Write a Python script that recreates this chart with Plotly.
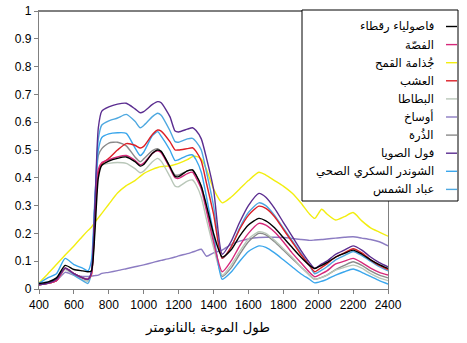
import plotly.graph_objects as go

# Wavelength grid (nm)
wavelength = [400, 450, 500, 550, 600, 650, 680, 700, 720, 740,
              760, 800, 850, 900, 950, 980, 1000, 1050, 1080, 1100,
              1150, 1180, 1200, 1250, 1280, 1300, 1330, 1360, 1400, 1450,
              1500, 1550, 1600, 1660, 1700, 1750, 1800, 1850, 1900, 1950,
              1980, 2020, 2050, 2100, 2150, 2200, 2250, 2300, 2350, 2400]

pinto_beans = [0.020, 0.025, 0.040, 0.085, 0.070, 0.065, 0.062, 0.065, 0.200, 0.400,
               0.445, 0.460, 0.470, 0.475, 0.458, 0.442, 0.448, 0.488, 0.500, 0.495,
               0.440, 0.405, 0.404, 0.425, 0.428, 0.410, 0.370, 0.300, 0.200, 0.115,
               0.140, 0.190, 0.230, 0.254, 0.245, 0.220, 0.185, 0.150, 0.115, 0.085,
               0.074, 0.085, 0.095, 0.115, 0.128, 0.140, 0.125, 0.105, 0.088, 0.074]

alfalfa = [0.015, 0.020, 0.030, 0.075, 0.055, 0.040, 0.035, 0.055, 0.260, 0.430,
           0.455, 0.465, 0.475, 0.480, 0.463, 0.447, 0.453, 0.488, 0.497, 0.490,
           0.435, 0.400, 0.398, 0.415, 0.420, 0.400, 0.360, 0.280, 0.170, 0.062,
           0.100, 0.155, 0.200, 0.236, 0.230, 0.205, 0.170, 0.130, 0.095, 0.060,
           0.044, 0.055, 0.065, 0.090, 0.100, 0.110, 0.095, 0.075, 0.060, 0.050]

wheat_bran = [0.022, 0.054, 0.088, 0.122, 0.155, 0.190, 0.210, 0.222, 0.240, 0.256,
              0.272, 0.305, 0.345, 0.372, 0.390, 0.405, 0.415, 0.430, 0.437, 0.440,
              0.443, 0.448, 0.452, 0.465, 0.476, 0.477, 0.468, 0.430, 0.360, 0.310,
              0.330, 0.360, 0.390, 0.420, 0.410, 0.390, 0.370, 0.345, 0.310, 0.270,
              0.254, 0.287, 0.270, 0.248, 0.260, 0.275, 0.245, 0.220, 0.205, 0.190]

grass = [0.015, 0.020, 0.030, 0.075, 0.055, 0.040, 0.035, 0.050, 0.250, 0.420,
         0.450, 0.470, 0.500, 0.523, 0.517, 0.507, 0.513, 0.556, 0.572, 0.568,
         0.530, 0.500, 0.500, 0.505, 0.508, 0.495, 0.460, 0.380, 0.270, 0.110,
         0.150, 0.215, 0.265, 0.298, 0.290, 0.260, 0.215, 0.170, 0.125, 0.085,
         0.062, 0.078, 0.090, 0.115, 0.130, 0.145, 0.130, 0.105, 0.085, 0.070]

potato = [0.015, 0.020, 0.030, 0.070, 0.050, 0.035, 0.028, 0.050, 0.260, 0.420,
          0.445, 0.452, 0.455, 0.452, 0.433, 0.418, 0.424, 0.458, 0.470, 0.460,
          0.405, 0.370, 0.368, 0.388, 0.392, 0.375, 0.330, 0.250, 0.150, 0.050,
          0.085, 0.135, 0.180, 0.206, 0.200, 0.175, 0.145, 0.115, 0.080, 0.050,
          0.035, 0.042, 0.050, 0.068, 0.078, 0.086, 0.075, 0.055, 0.040, 0.030]

soil = [0.020, 0.025, 0.030, 0.060, 0.050, 0.045, 0.045, 0.046, 0.048, 0.050,
        0.056, 0.060, 0.066, 0.073, 0.080, 0.084, 0.087, 0.095, 0.100, 0.103,
        0.110, 0.115, 0.119, 0.127, 0.133, 0.137, 0.143, 0.118, 0.130, 0.140,
        0.160, 0.172, 0.180, 0.185, 0.186, 0.186, 0.185, 0.182, 0.178, 0.175,
        0.176, 0.178, 0.180, 0.183, 0.186, 0.188, 0.183, 0.178, 0.170, 0.155]

corn = [0.015, 0.020, 0.030, 0.075, 0.055, 0.040, 0.032, 0.060, 0.300, 0.480,
        0.505, 0.525, 0.528, 0.515, 0.475, 0.458, 0.468, 0.498, 0.505, 0.495,
        0.440, 0.410, 0.410, 0.425, 0.428, 0.410, 0.370, 0.290, 0.180, 0.045,
        0.075, 0.125, 0.170, 0.200, 0.195, 0.170, 0.140, 0.110, 0.080, 0.050,
        0.035, 0.042, 0.050, 0.070, 0.085, 0.098, 0.085, 0.065, 0.050, 0.040]

soybean = [0.015, 0.020, 0.035, 0.075, 0.055, 0.040, 0.035, 0.060, 0.300, 0.580,
           0.640, 0.655, 0.665, 0.668, 0.648, 0.634, 0.638, 0.664, 0.674, 0.670,
           0.620, 0.568, 0.565, 0.575, 0.580, 0.570, 0.540, 0.470, 0.360, 0.125,
           0.170, 0.240, 0.300, 0.344, 0.330, 0.290, 0.240, 0.190, 0.140, 0.095,
           0.074, 0.090, 0.100, 0.125, 0.140, 0.155, 0.140, 0.115, 0.095, 0.080]

sugar_beet = [0.020, 0.040, 0.055, 0.110, 0.088, 0.075, 0.065, 0.100, 0.320, 0.500,
              0.545, 0.558, 0.562, 0.560, 0.508, 0.480, 0.492, 0.552, 0.566, 0.550,
              0.500, 0.462, 0.465, 0.480, 0.482, 0.465, 0.420, 0.330, 0.200, 0.035,
              0.060, 0.100, 0.135, 0.155, 0.150, 0.130, 0.105, 0.080, 0.055, 0.035,
              0.022, 0.028, 0.035, 0.050, 0.062, 0.072, 0.060, 0.045, 0.030, 0.018]

sunflower = [0.020, 0.025, 0.035, 0.075, 0.050, 0.030, 0.020, 0.060, 0.300, 0.540,
             0.590, 0.605, 0.615, 0.628, 0.603, 0.580, 0.588, 0.620, 0.632, 0.625,
             0.570, 0.530, 0.528, 0.540, 0.542, 0.530, 0.500, 0.420, 0.300, 0.110,
             0.150, 0.220, 0.275, 0.310, 0.300, 0.265, 0.220, 0.175, 0.130, 0.085,
             0.055, 0.068, 0.080, 0.105, 0.120, 0.135, 0.120, 0.100, 0.080, 0.065]

# Legend order: (label, values, colour)
series = [
    ("فاصولياء رقطاء", pinto_beans, "#000000"),
    ("الفصّة", alfalfa, "#d6287a"),
    ("جُذامة القمح", wheat_bran, "#f2ee10"),
    ("العشب", grass, "#dc1f26"),
    ("البطاطا", potato, "#b9c7b9"),
    ("أوساخ", soil, "#8c7cc2"),
    ("الذُرة", corn, "#8a8a8a"),
    ("فول الصويا", soybean, "#5b2d90"),
    ("الشوندر السكري الصحي", sugar_beet, "#3aa6ec"),
    ("عباد الشمس", sunflower, "#4ea8e0"),
]

x_ticks = [400, 600, 800, 1000, 1200, 1400, 1600, 1800, 2000, 2200, 2400]
y_ticks = [0, 0.1, 0.2, 0.3, 0.4, 0.5, 0.6, 0.7, 0.8, 0.9, 1]
y_tick_text = ["0", "0.1", "0.2", "0.3", "0.4", "0.5", "0.6", "0.7", "0.8", "0.9", "1"]
x_title = "طول الموجة بالنانومتر"

fig = go.Figure()

# draw back-to-front so the black curve ends up on top
draw_order = [2, 5, 6, 4, 9, 8, 3, 1, 7, 0]
for i in draw_order:
    name, vals, col = series[i]
    fig.add_trace(go.Scatter(
        x=wavelength, y=vals, name=name, mode="lines",
        line=dict(color=col, width=1.4, shape="spline", smoothing=0.6),
        showlegend=False, hoverinfo="skip",
    ))

W, H = 467, 343
L, R, T, B = 39, 79, 11, 54
pw, ph = W - L - R, H - T - B


def px_x(px):
    return (px - L) / pw


def px_y(py):
    return (H - B - py) / ph


shapes = []
annotations = []

# legend frame
shapes.append(dict(type="rect", xref="paper", yref="paper",
                   x0=px_x(302), x1=px_x(458), y0=px_y(201), y1=px_y(10),
                   line=dict(color="black", width=1), fillcolor="white", layer="above"))

row_y0, row_step = 26.5, 18.1
for k, (name, vals, col) in enumerate(series):
    yy = px_y(row_y0 + k * row_step)
    shapes.append(dict(type="line", xref="paper", yref="paper",
                       x0=px_x(446), x1=px_x(457), y0=yy, y1=yy,
                       line=dict(color=col, width=1.4), layer="above"))
    annotations.append(dict(xref="paper", yref="paper", x=px_x(436), y=yy,
                            text=name, showarrow=False, xanchor="right", yanchor="middle",
                            font=dict(family="DejaVu Sans", size=11.6, color="black")))

# top frame line
shapes.append(dict(type="line", xref="paper", yref="paper", x0=0, x1=1, y0=1, y1=1,
                   line=dict(color="black", width=1.2), layer="below"))

annotations.append(dict(xref="paper", yref="paper", x=px_x(207), y=px_y(327),
                        text=x_title, showarrow=False, xanchor="center", yanchor="middle",
                        font=dict(family="DejaVu Sans", size=13.5, color="black")))

fig.update_layout(
    width=W, height=H,
    margin=dict(l=L, r=R, t=T, b=B, autoexpand=False),
    paper_bgcolor="white", plot_bgcolor="white",
    shapes=shapes, annotations=annotations,
    font=dict(family="Liberation Sans", size=12, color="black"),
)
fig.update_xaxes(range=[400, 2400], tickvals=x_ticks, ticks="outside", ticklen=4,
                 tickcolor="#808080", showline=True, linecolor="#808080", linewidth=1.2,
                 mirror=True, showgrid=False, zeroline=False, automargin=False,
                 tickfont=dict(family="Liberation Sans", size=12, color="black"))
fig.update_yaxes(range=[0, 1], tickvals=y_ticks, ticktext=y_tick_text, ticks="outside",
                 ticklen=4, tickcolor="#808080", showline=True, linecolor="#808080",
                 linewidth=1.2, mirror=True, showgrid=False, zeroline=False,
                 automargin=False,
                 tickfont=dict(family="Liberation Sans", size=12, color="black"))

fig.write_html("out.html")
